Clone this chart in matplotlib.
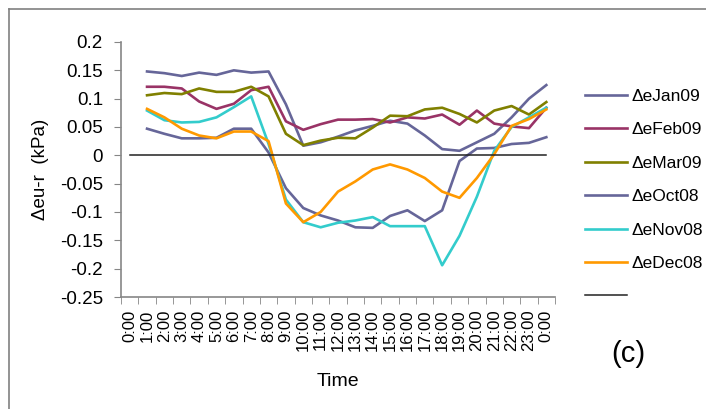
import matplotlib.pyplot as plt
import numpy as np
from matplotlib.lines import Line2D
from matplotlib.ticker import FuncFormatter, MultipleLocator

plt.rcParams['font.family'] = ['Liberation Sans', 'DejaVu Sans']

# categories: 0:00 ... 23:00, 0:00 (25 slots), series start at 1:00
time_labels = ['%d:00' % h for h in range(24)] + ['0:00']
hours = np.arange(1, 25)

jan09 = [0.148, 0.145, 0.140, 0.146, 0.142, 0.150, 0.146, 0.148, 0.090, 0.017, 0.023, 0.033,
         0.044, 0.052, 0.061, 0.056, 0.035, 0.011, 0.008, 0.023, 0.038, 0.067, 0.100, 0.124]
feb09 = [0.121, 0.121, 0.118, 0.095, 0.082, 0.091, 0.115, 0.121, 0.060, 0.045, 0.055, 0.063,
         0.063, 0.064, 0.058, 0.067, 0.065, 0.072, 0.054, 0.079, 0.056, 0.051, 0.048, 0.084]
mar09 = [0.106, 0.110, 0.108, 0.118, 0.112, 0.112, 0.121, 0.104, 0.038, 0.018, 0.026, 0.031,
         0.030, 0.049, 0.070, 0.069, 0.081, 0.084, 0.073, 0.058, 0.079, 0.087, 0.072, 0.094]
oct08 = [0.047, 0.038, 0.030, 0.030, 0.031, 0.047, 0.047, 0.005, -0.058, -0.093, -0.106, -0.115,
         -0.127, -0.128, -0.107, -0.097, -0.116, -0.097, -0.010, 0.012, 0.013, 0.020, 0.022, 0.032]
nov08 = [0.079, 0.062, 0.058, 0.059, 0.067, 0.085, 0.104, 0.020, -0.078, -0.118, -0.127, -0.119,
         -0.115, -0.109, -0.125, -0.125, -0.125, -0.194, -0.142, -0.073, 0.008, 0.050, 0.067, 0.084]
dec08 = [0.082, 0.067, 0.047, 0.035, 0.030, 0.042, 0.042, 0.025, -0.085, -0.118, -0.100, -0.064,
         -0.046, -0.025, -0.016, -0.025, -0.040, -0.064, -0.075, -0.040, 0.002, 0.052, 0.064, 0.081]
zero_line = [0.0] * 25

names = ['\u0394eJan09', '\u0394eFeb09', '\u0394eMar09', '\u0394eOct08', '\u0394eNov08', '\u0394eDec08']
colors = ['#666699', '#993366', '#808000', '#666699', '#33cccc', '#ff9900']

fig = plt.figure(figsize=(7.06, 4.09), dpi=100)
ax = fig.add_axes([121 / 706, 112 / 409, 434 / 706, 255 / 409])

handles = []
for vals, c, n in zip([jan09, feb09, mar09, oct08, nov08, dec08], colors, names):
    h, = ax.plot(hours, vals, color=c, lw=1.9, label=n, solid_joinstyle='round')
    handles.append(h)
z, = ax.plot(np.arange(25), zero_line, color='#222222', lw=1.1, label=' ')
handles.append(z)

ax.set_xlim(-0.5, 24.5)
ax.set_ylim(-0.25, 0.2)
ax.yaxis.set_major_locator(MultipleLocator(0.05))
ax.yaxis.set_major_formatter(FuncFormatter(lambda v, p: '%g' % round(v, 2)))
ax.set_xticks(np.arange(25))
ax.set_xticklabels(time_labels, rotation=90, fontsize=12)
ax.set_xticks(np.arange(-0.5, 25, 1), minor=True)
ax.tick_params(axis='x', which='major', length=0, pad=9)
ax.tick_params(axis='x', which='minor', length=5, color='#868686', direction='out')
ax.tick_params(axis='y', length=5, color='#868686', labelsize=13.5, pad=8)

for s in ['top', 'right']:
    ax.spines[s].set_visible(False)
for s in ['left', 'bottom']:
    ax.spines[s].set_color('#868686')
    ax.spines[s].set_linewidth(1.2)

ax.set_xlabel('Time', fontsize=14)
ax.xaxis.set_label_coords(0.5, -0.3)
ax.set_ylabel('\u0394eu-r  (kPa)', fontsize=13.5)
ax.yaxis.set_label_coords(-0.165, 0.5)

fig.legend(handles, names + [''], loc='upper left', bbox_to_anchor=(578 / 706, 1 - 82 / 409),
           frameon=False, fontsize=12.5, handlelength=2.4, handletextpad=0.3, labelspacing=1.05,
           borderaxespad=0)

fig.text(628 / 706, 1 - 354 / 409, '(c)', fontsize=21, ha='center', va='center')

# chart-area border (top and left edges visible)
fig.add_artist(Line2D([9 / 706, 9 / 706], [0, 1 - 9 / 409], color='#808080', lw=1.2))
fig.add_artist(Line2D([9 / 706, 1], [1 - 9 / 409, 1 - 9 / 409], color='#808080', lw=1.2))

fig.savefig('out.png', dpi=100)
